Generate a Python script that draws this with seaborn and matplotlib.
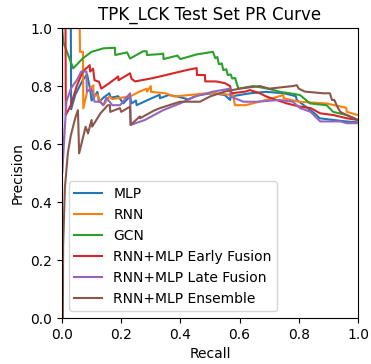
import numpy as np
import pandas as pd
import seaborn as sns
import matplotlib
matplotlib.use("Agg")
import matplotlib.pyplot as plt

# Valores leídos a ojo de la figura original (recall, precision)
mlp_r = [0, 0.03, 0.031, 0.045, 0.07, 0.085, 0.095, 0.10, 0.12, 0.125, 0.14, 0.16, 0.165, 0.19, 0.207,
         0.23, 0.235, 0.25, 0.252, 0.29, 0.33, 0.331, 0.36, 0.39, 0.42, 0.421, 0.46, 0.51, 0.55, 0.568,
         0.57, 0.635, 0.69, 0.75, 0.79, 0.793, 0.83, 0.86, 0.87, 0.917, 0.96, 1.0]
mlp_p = [1.0, 1.0, 0.72, 0.77, 0.82, 0.84, 0.79, 0.75, 0.78, 0.745, 0.76, 0.775, 0.76, 0.765, 0.74,
         0.765, 0.74, 0.75, 0.734, 0.752, 0.77, 0.758, 0.769, 0.764, 0.756, 0.752, 0.769, 0.775, 0.769, 0.752,
         0.764, 0.775, 0.78, 0.775, 0.765, 0.752, 0.724, 0.70, 0.689, 0.683, 0.678, 0.675]

rnn_r = [0, 0.06, 0.061, 0.071, 0.072, 0.085, 0.106, 0.107, 0.12, 0.13, 0.14, 0.16, 0.17, 0.2, 0.23,
         0.26, 0.286, 0.287, 0.3, 0.301, 0.35, 0.38, 0.43, 0.49, 0.52, 0.578, 0.584, 0.62, 0.69, 0.748,
         0.749, 0.8, 0.894, 0.92, 0.96, 0.962, 1.0]
rnn_p = [1.0, 1.0, 0.918, 0.918, 0.723, 0.781, 0.803, 0.764, 0.77, 0.745, 0.734, 0.764, 0.755, 0.76, 0.764,
         0.78, 0.791, 0.781, 0.80, 0.78, 0.775, 0.764, 0.769, 0.775, 0.775, 0.769, 0.734, 0.734, 0.752, 0.769,
         0.758, 0.746, 0.74, 0.734, 0.725, 0.711, 0.70]

gcn_r = [0, 0.005, 0.038, 0.07, 0.1, 0.14, 0.179, 0.18, 0.22, 0.23, 0.275, 0.286, 0.287, 0.33, 0.342,
         0.343, 0.39, 0.40, 0.455, 0.51, 0.518, 0.525, 0.53, 0.54, 0.545, 0.555, 0.56, 0.57, 0.575,
         0.585, 0.59, 0.596, 0.646, 0.70, 0.737, 0.77, 0.804, 0.838, 0.894, 0.916, 0.962, 1.0]
gcn_p = [1.0, 0.95, 0.861, 0.895, 0.918, 0.93, 0.932, 0.907, 0.916, 0.895, 0.92, 0.92, 0.907, 0.91, 0.912,
         0.893, 0.905, 0.893, 0.909, 0.918, 0.896, 0.90, 0.875, 0.878, 0.855, 0.858, 0.838, 0.84, 0.826,
         0.828, 0.81, 0.791, 0.80, 0.79, 0.78, 0.775, 0.769, 0.74, 0.734, 0.711, 0.70, 0.683]

early_r = [0, 0.012, 0.013, 0.03, 0.05, 0.07, 0.094, 0.095, 0.105, 0.11, 0.125, 0.133, 0.16, 0.19, 0.191,
           0.23, 0.235, 0.247, 0.30, 0.331, 0.38, 0.421, 0.455, 0.456, 0.483, 0.484, 0.52, 0.55, 0.568, 0.573,
           0.62, 0.635, 0.669, 0.69, 0.725, 0.76, 0.804, 0.84, 0.872, 0.917, 0.962, 1.0]
early_p = [1.0, 1.0, 0.70, 0.734, 0.80, 0.85, 0.872, 0.85, 0.86, 0.82, 0.815, 0.791, 0.81, 0.833, 0.82,
           0.844, 0.825, 0.816, 0.826, 0.833, 0.845, 0.855, 0.862, 0.838, 0.838, 0.816, 0.816, 0.81, 0.80, 0.775,
           0.781, 0.786, 0.775, 0.764, 0.752, 0.74, 0.729, 0.724, 0.706, 0.70, 0.689, 0.683]

late_r = [0, 0.001, 0.015, 0.03, 0.05, 0.065, 0.083, 0.084, 0.1, 0.11, 0.128, 0.14, 0.15, 0.17, 0.196,
          0.23, 0.232, 0.28, 0.342, 0.399, 0.45, 0.511, 0.54, 0.568, 0.569, 0.613, 0.66, 0.736, 0.78, 0.804,
          0.84, 0.872, 0.94, 0.962, 1.0]
late_p = [1.0, 0.50, 0.746, 0.791, 0.82, 0.85, 0.85, 0.781, 0.79, 0.746, 0.746, 0.734, 0.76, 0.734, 0.734,
          0.775, 0.666, 0.683, 0.717, 0.74, 0.764, 0.781, 0.786, 0.791, 0.764, 0.746, 0.746, 0.752, 0.746, 0.724,
          0.711, 0.678, 0.678, 0.672, 0.672]

ens_r = [0.003, 0.004, 0.01, 0.02, 0.03, 0.045, 0.054, 0.058, 0.08, 0.088, 0.1, 0.102, 0.13, 0.155, 0.162,
         0.163, 0.196, 0.2, 0.23, 0.232, 0.263, 0.264, 0.31, 0.331, 0.399, 0.466, 0.5, 0.55, 0.6, 0.669,
         0.7, 0.78, 0.793, 0.8, 0.82, 0.883, 0.905, 0.912, 0.92, 0.93, 0.94, 0.962, 1.0]
ens_p = [0.0, 0.25, 0.45, 0.57, 0.63, 0.69, 0.717, 0.568, 0.66, 0.637, 0.683, 0.66, 0.706, 0.734, 0.734,
         0.711, 0.724, 0.711, 0.729, 0.666, 0.695, 0.689, 0.715, 0.724, 0.746, 0.746, 0.764, 0.781, 0.791, 0.80,
         0.791, 0.80, 0.803, 0.791, 0.781, 0.775, 0.775, 0.752, 0.752, 0.729, 0.711, 0.70, 0.683]

modelos = ["MLP", "RNN", "GCN", "RNN+MLP Early Fusion", "RNN+MLP Late Fusion", "RNN+MLP Ensemble"]
curvas = [(mlp_r, mlp_p), (rnn_r, rnn_p), (gcn_r, gcn_p),
          (early_r, early_p), (late_r, late_p), (ens_r, ens_p)]

# Tabla larga para seaborn
filas = []
for nombre, (r, p) in zip(modelos, curvas):
    for i, (ri, pi) in enumerate(zip(r, p)):
        filas.append({"Model": nombre, "idx": i, "Recall": ri, "Precision": pi})
df = pd.DataFrame(filas)

fig = plt.figure(figsize=(3.71, 3.64), dpi=100)
ax = fig.add_axes([0.167, 0.126, 0.798, 0.797])
sns.lineplot(data=df, x="Recall", y="Precision", hue="Model", hue_order=modelos,
             palette="tab10", sort=False, estimator=None, linewidth=1.5, ax=ax)

ax.set_xlim(0, 1)
ax.set_ylim(0, 1)
ax.set_title("TPK_LCK Test Set PR Curve")
ax.legend(loc="lower left")

fig.savefig("out.png", dpi=100)
print("listo")
